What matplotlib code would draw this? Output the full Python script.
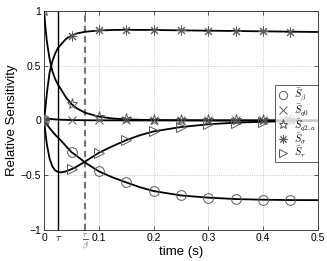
import numpy as np
import matplotlib
matplotlib.use("Agg")
import matplotlib.pyplot as plt
import matplotlib.transforms as mtransforms

plt.rcParams['font.family'] = ['Liberation Sans', 'DejaVu Sans']
plt.rcParams['mathtext.fontset'] = 'cm'

# time grid (s)
t = [0, 0.002, 0.005, 0.01, 0.015, 0.02, 0.025, 0.03, 0.04, 0.05, 0.06, 0.075,
     0.1, 0.125, 0.15, 0.175, 0.2, 0.25, 0.3, 0.35, 0.4, 0.45, 0.5]

S_beta = [0, -0.015, -0.035, -0.07, -0.10, -0.13, -0.155, -0.18, -0.235, -0.29, -0.325, -0.385,
          -0.465, -0.52, -0.566, -0.61, -0.645, -0.685, -0.705, -0.718, -0.724, -0.727, -0.728]
S_q0 = [0, 0.01, 0.015, 0.015, 0.012, 0.01, 0.008, 0.007, 0.005, 0.004, 0.003, 0.002,
        0.001, 0.001, 0.0, 0.0, 0.0, 0.0, 0.0, 0.0, 0.0, 0.0, 0.0]
S_q2a = [1.0, 0.87, 0.72, 0.56, 0.45, 0.38, 0.33, 0.29, 0.21, 0.15, 0.11, 0.07,
         0.035, 0.018, 0.01, 0.006, 0.004, 0.002, 0.001, 0.0, 0.0, 0.0, 0.0]
S_sigma = [0, 0.10, 0.25, 0.44, 0.54, 0.61, 0.66, 0.69, 0.745, 0.775, 0.795, 0.81,
           0.822, 0.826, 0.828, 0.827, 0.826, 0.823, 0.82, 0.817, 0.814, 0.811, 0.808]
S_tau = [0, -0.10, -0.22, -0.35, -0.42, -0.455, -0.47, -0.475, -0.465, -0.445, -0.42, -0.375,
         -0.295, -0.235, -0.18, -0.135, -0.10, -0.06, -0.035, -0.02, -0.012, -0.007, -0.004]

marker_times = [0, 0.05, 0.1, 0.15, 0.2, 0.25, 0.3, 0.35, 0.4, 0.45]
tau_val = 0.026
tau_beta_val = 0.075

labels = [r'$\bar{S}_{\beta}$', r'$\bar{S}_{q0}$', r'$\bar{S}_{q2,a}$', r'$\bar{S}_{\sigma}$', r'$\bar{S}_{\tau}$']
series = [S_beta, S_q0, S_q2a, S_sigma, S_tau]
markers = ['o', 'x', '*', (8, 2, 0), '>']
msizes = [7, 6, 8, 7, 7]

fig = plt.figure(figsize=(3.27, 2.61), dpi=100)
ax = fig.add_axes([0.135, 0.119, 0.837, 0.839])

ax.grid(True, linestyle=':', color='0.72', linewidth=0.6)
ax.set_axisbelow(True)

mk_idx = [t.index(m) for m in marker_times]
handles = []
for y, mk, ms, lab in zip(series, markers, msizes, labels):
    ax.plot(t, y, color='black', lw=1.3, zorder=3)
    h, = ax.plot([t[i] for i in mk_idx], [y[i] for i in mk_idx], linestyle='none',
                 marker=mk, ms=ms, mfc='none', mec='0.35', mew=0.7, zorder=4, label=lab)
    handles.append(h)

ax.axvline(tau_val, color='black', lw=1.0, zorder=2)
ax.axvline(tau_beta_val, color='0.45', lw=1.5, ls=(0, (3, 2)), zorder=2)

ax.set_xlim(0, 0.5)
ax.set_ylim(-1, 1)
ax.set_xticks([0, tau_val, tau_beta_val, 0.1, 0.2, 0.3, 0.4, 0.5])
ax.set_xticklabels(['0', r'$\tau$', '', '0.1', '0.2', '0.3', '0.4', '0.5'])
trans = mtransforms.blended_transform_factory(ax.transData, ax.transAxes)
ax.text(tau_beta_val, -0.055, r'$\frac{\tau}{\beta}$', transform=trans, ha='center', va='center',
        fontsize=8, color='0.35')
ax.set_yticks([-1, -0.5, 0, 0.5, 1])
ax.set_yticklabels(['\u22121', '\u22120.5', '0', '0.5', '1'])
ax.tick_params(direction='in', length=3, width=0.6, labelsize=7.5, top=True, right=True,
               color='0.25', pad=2)
for s in ax.spines.values():
    s.set_color('0.25')
    s.set_linewidth(0.7)

ax.set_xlabel('time (s)', fontsize=9.5)
ax.xaxis.set_label_coords(0.5, -0.075)
ax.set_ylabel('Relative Sensitivity', fontsize=9.5, labelpad=2)

leg = ax.legend(handles=handles, loc='upper right', bbox_to_anchor=(1.0, 0.66),
                fontsize=7.3, frameon=True, fancybox=False, edgecolor='0.2', markerscale=0.85,
                handlelength=1.2, handletextpad=0.5, borderpad=0.15, labelspacing=-0.12,
                borderaxespad=0.0)
leg.get_frame().set_linewidth(0.7)

fig.savefig('out.png', dpi=100)
